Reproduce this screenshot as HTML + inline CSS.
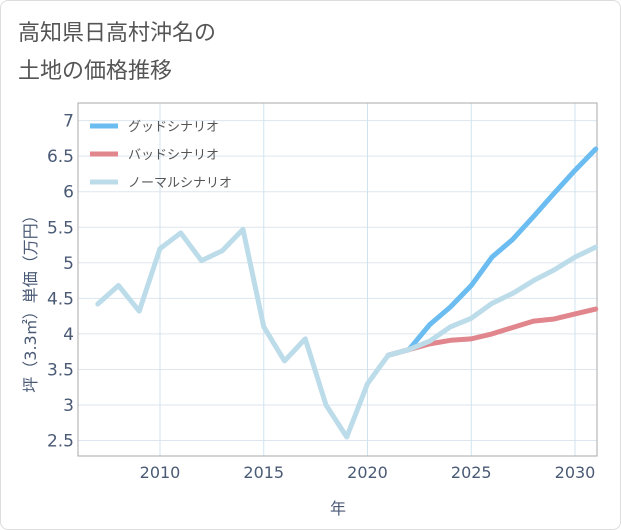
<!DOCTYPE html>
<html><head><meta charset="utf-8"><style>
body{margin:0;background:#fff;font-family:"Liberation Sans","Noto Sans CJK JP",sans-serif;}
#wrap{position:relative;width:619px;height:528px;border:1px solid #ddd;border-radius:8px;overflow:hidden}
</style></head><body>
<div id="wrap">
<svg id="chart" width="621" height="530" style="position:absolute;left:-1px;top:-1px">
<text x="18" y="40" font-size="22" fill="#555">高知県日高村沖名の</text>
<text x="18" y="78" font-size="22" fill="#555">土地の価格推移</text>
</svg>
</div>
<script>
const years=[2007,2008,2009,2010,2011,2012,2013,2014,2015,2016,2017,2018,2019,2020,2021,2022,2023,2024,2025,2026,2027,2028,2029,2030,2031];
const normal=[4.42,4.68,4.32,5.2,5.42,5.03,5.17,5.47,4.1,3.62,3.93,3.0,2.55,3.3,3.7,3.78,3.9,4.1,4.22,4.43,4.57,4.75,4.9,5.08,5.22];
const goodYears=[2021,2022,2023,2024,2025,2026,2027,2028,2029,2030,2031];
const good=[3.7,3.78,4.13,4.38,4.68,5.08,5.33,5.65,5.98,6.3,6.6];
const bad=[3.7,3.78,3.86,3.91,3.93,4.0,4.09,4.18,4.21,4.28,4.35];
const yTicks=[2.5,3,3.5,4,4.5,5,5.5,6,6.5,7];
const yTickLabels=["2.5","3","3.5","4","4.5","5","5.5","6","6.5","7"];
const xTicks=[2010,2015,2020,2025,2030];
const NS="http://www.w3.org/2000/svg";
const svg=document.getElementById('chart');
const L=78,R=597,T=103,B=456;
const LBL='#4a5a75';
const FONT='"DejaVu Sans","Noto Sans CJK JP",sans-serif';
const x=v=>160+(v-2010)*20.75;
const y=v=>405-(v-3)*71.1;
function el(t,a,p){const e=document.createElementNS(NS,t);for(const k in a)e.setAttribute(k,a[k]);(p||svg).appendChild(e);return e;}
yTicks.forEach((v,i)=>{
 const g=el('line',{x1:L,x2:R,y1:y(v),y2:y(v),stroke:'#dde6ee'});
 
 
 const t=el('text',{x:L-4,y:y(v)+6,'text-anchor':'end','font-size':17,fill:LBL,'font-family':FONT});
 t.textContent=yTickLabels[i];
 
 
});
xTicks.forEach(v=>{
 const g=el('line',{x1:x(v),x2:x(v),y1:T,y2:B,stroke:'#cfe3ef'});
 
 
 const t=el('text',{x:x(v),y:B+22,'text-anchor':'middle','font-size':16,fill:LBL,'font-family':FONT});
 t.textContent=v;
 
 
});
const frame=el('rect',{x:L,y:T,width:R-L,height:B-T,fill:'none',stroke:'#aaa'});


const yt=el('text',{x:0,y:0,'font-size':16,fill:LBL,'text-anchor':'middle',transform:'translate(36,300) rotate(-90)','font-family':FONT});
yt.textContent='坪（3.3㎡）単価（万円）';


const xt=el('text',{x:338,y:514,'font-size':16,fill:LBL,'text-anchor':'middle','font-family':FONT});
xt.textContent='年';


function line(xs,vs,color,name){
 const d=xs.map((v,i)=>(i?'L':'M')+x(v)+' '+y(vs[i])).join(' ');
 const p=el('path',{d:d,fill:'none',stroke:color,'stroke-width':5,'stroke-linejoin':'round','stroke-linecap':'round'});
 
 
}
line(goodYears,good,'#6bbcf0','good-scenario-line');
line(goodYears,bad,'#e0868c','bad-scenario-line');
line(years,normal,'#bcdcea','normal-scenario-line');
[['グッドシナリオ','#6bbcf0'],['バッドシナリオ','#e0868c'],['ノーマルシナリオ','#bcdcea']].forEach((l,i)=>{
 const yy=126+i*28;
 const ln=el('line',{x1:90,x2:118,y1:yy,y2:yy,stroke:l[1],'stroke-width':5});
 
 
 const t=el('text',{x:128,y:yy+5,'font-size':13,fill:'#555'});
 t.textContent=l[0];
 
 
});
</script>
</body></html>
